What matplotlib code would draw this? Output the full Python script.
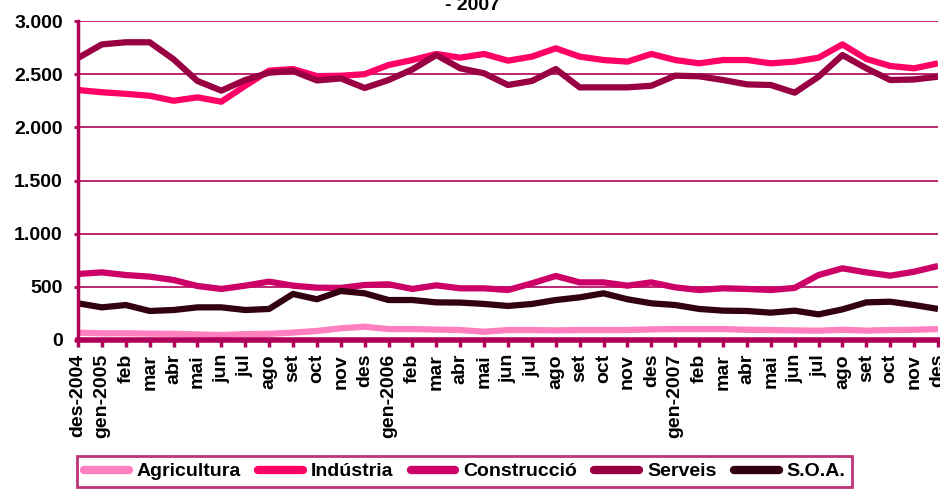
import numpy as np
import matplotlib.pyplot as plt

plt.rcParams['font.family'] = ['Liberation Sans', 'DejaVu Sans']
plt.rcParams['font.weight'] = 'bold'

# Months des-2004 .. des-2007
months = ['des-2004', 'gen-2005', 'feb', 'mar', 'abr', 'mai', 'jun', 'jul', 'ago', 'set', 'oct', 'nov', 'des',
          'gen-2006', 'feb', 'mar', 'abr', 'mai', 'jun', 'jul', 'ago', 'set', 'oct', 'nov', 'des',
          'gen-2007', 'feb', 'mar', 'abr', 'mai', 'jun', 'jul', 'ago', 'set', 'oct', 'nov', 'des']

agricultura = [69, 63, 63, 60, 58, 52, 47, 55, 58, 70, 85, 110, 125, 103, 103, 98, 94, 78,
               94, 94, 90, 94, 94, 94, 100, 103, 103, 103, 96, 94, 90, 88, 96, 88, 94, 96, 103]
industria = [2351, 2330, 2315, 2297, 2250, 2282, 2241, 2391, 2533, 2548, 2482, 2485, 2500,
             2586, 2633, 2690, 2655, 2690, 2627, 2665, 2743, 2665, 2633, 2618, 2690, 2633,
             2602, 2633, 2633, 2602, 2618, 2655, 2780, 2643, 2577, 2555, 2602]
construccio = [621, 636, 611, 596, 564, 508, 480, 511, 549, 511, 492, 490, 517, 524, 480, 514,
               486, 486, 470, 533, 602, 542, 542, 511, 542, 495, 470, 486, 480, 470, 490, 611,
               674, 636, 605, 642, 696]
serveis = [2652, 2780, 2800, 2800, 2640, 2436, 2345, 2445, 2514, 2530, 2441, 2460, 2370,
           2445, 2545, 2680, 2555, 2508, 2398, 2436, 2548, 2376, 2376, 2376, 2391, 2486,
           2480, 2445, 2404, 2398, 2326, 2476, 2680, 2555, 2445, 2450, 2476]
soa = [345, 307, 329, 273, 282, 307, 307, 282, 292, 433, 383, 461, 439, 376, 376, 354, 352,
       339, 320, 339, 376, 401, 439, 383, 345, 329, 292, 276, 273, 257, 276, 241, 288, 354,
       360, 329, 292]

series = [('Agricultura', agricultura, '#FF7FBF'),
          ('Indústria', industria, '#FF0066'),
          ('Construcció', construccio, '#CC0066'),
          ('Serveis', serveis, '#990044'),
          ('S.O.A.', soa, '#330011')]

axis_col = '#B0005A'
fs = 14

fig = plt.figure(figsize=(9.4, 4.9), dpi=100)
ax = fig.add_axes([78 / 940, 1 - 340 / 490, 860 / 940, 319 / 490])

x = np.arange(len(months))
for name, vals, col in series:
    ax.plot(x, vals, color=col, lw=4.5, label=name, solid_capstyle='butt')

ax.set_xlim(0, len(months) - 1)
ax.set_ylim(0, 3000)
yt = np.arange(0, 3001, 500)
ax.set_yticks(yt)
ax.set_yticklabels([f'{v:,}'.replace(',', '.') for v in yt], fontsize=fs, fontweight='bold')
ax.set_xticks(x)
ax.set_xticklabels(months, rotation=90, fontsize=fs, fontweight='bold')
ax.grid(axis='y', color=axis_col, lw=1.2)
ax.set_axisbelow(True)

for s in ['top', 'right']:
    ax.spines[s].set_visible(False)
ax.spines['left'].set_color(axis_col)
ax.spines['left'].set_linewidth(2.5)
ax.spines['bottom'].set_color(axis_col)
ax.spines['bottom'].set_linewidth(4)
ax.tick_params(axis='x', colors=axis_col, length=5, width=2.5, pad=5, labelcolor='black')
ax.tick_params(axis='y', colors=axis_col, length=3, width=2, pad=8, labelcolor='black')

fig.text(0.503, 1 - 10 / 490, '- 2007', ha='center', va='baseline', fontsize=fs, fontweight='bold')

leg = fig.legend(loc='upper left', bbox_to_anchor=(77 / 940, 1 - 456 / 490), ncol=5,
                 fontsize=fs, frameon=True, fancybox=False, handlelength=2.3,
                 handletextpad=0.4, columnspacing=0.9, borderpad=0.35, borderaxespad=0)
leg.get_frame().set_edgecolor(axis_col)
leg.get_frame().set_linewidth(2)
for line in leg.get_lines():
    line.set_linewidth(6)
    line.set_solid_capstyle('round')

fig.savefig('out.png', dpi=100)
